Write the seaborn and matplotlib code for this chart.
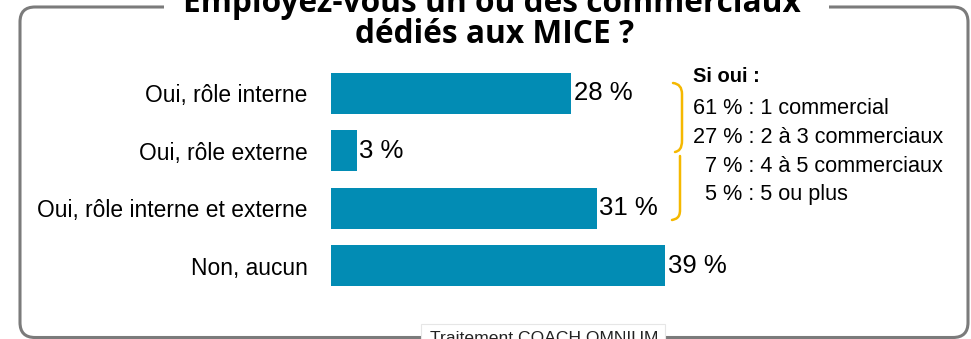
import matplotlib
matplotlib.use("Agg")
import matplotlib.pyplot as plt
import seaborn as sns
import pandas as pd
from matplotlib.patches import FancyBboxPatch, Rectangle, PathPatch
from matplotlib.path import Path
from matplotlib.transforms import IdentityTransform

categories = ["Oui, rôle interne", "Oui, rôle externe",
              "Oui, rôle interne et externe", "Non, aucun"]
values = [28, 3, 31, 39]
value_labels = ["28 %", "3 %", "31 %", "39 %"]
title_lines = ["Employez-vous un ou des commerciaux", "dédiés aux MICE ?"]
side_title = "Si oui :"
side_lines = ["61 % : 1 commercial", "27 % : 2 à 3 commerciaux",
              "  7 % : 4 à 5 commerciaux", "  5 % : 5 ou plus"]
source = "Traitement COACH OMNIUM"

W, H = 971, 339
BAR = "#028cb4"
GOLD = "#f5b800"
FRAME = "#7b7b7b"

sns.set_theme(style="white")
plt.rcParams['font.family'] = ['Liberation Sans', 'DejaVu Sans']

fig = plt.figure(figsize=(W / 100, H / 100), dpi=100)
fig.patch.set_facecolor("white")
px = IdentityTransform()

# Rounded frame
frame = FancyBboxPatch((20, 1.5), 948, 330.5,
                       boxstyle="round,pad=0,rounding_size=15",
                       transform=px, facecolor="none", edgecolor=FRAME,
                       linewidth=2.2, zorder=1)
fig.add_artist(frame)
# gap in the top border for the title
fig.add_artist(Rectangle((164, 325), 665, 14, transform=px,
                         facecolor="white", edgecolor="none", zorder=2))
# faint source box
fig.add_artist(Rectangle((421, -5), 244, 20, transform=px,
                         facecolor="white", edgecolor="#e6e6e6",
                         linewidth=0.8, zorder=2))

# Bars
ax = fig.add_axes([331 / W, 1 - 294.2 / H, 385.7 / W, 229.4 / H])
ax.set_facecolor("none")
df = pd.DataFrame({"cat": categories, "val": values})
sns.barplot(data=df, y="cat", x="val", orient="h", color=BAR,
            saturation=1, width=0.714, linewidth=0, ax=ax)
ax.set_xlim(0, 45)
ax.set_ylim(3.5, -0.5)
for i, (v, lab) in enumerate(zip(values, value_labels)):
    ax.text(v + 0.3, i, lab, ha="left", va="center", fontsize=18.5,
            color="black")
ax.set_xlabel("")
ax.set_ylabel("")
ax.set_xticks([])
ax.tick_params(axis="y", length=0, pad=17, labelsize=16.4, labelcolor="black")
for s in ax.spines.values():
    s.set_visible(False)

# Title
fig.text(492 / W, (H - 12) / H, title_lines[0], ha="center", va="baseline",
         fontsize=22.8, fontweight="bold", family="Open Sans", color="black",
         zorder=3)
fig.text(495 / W, (H - 43) / H, title_lines[1], ha="center", va="baseline",
         fontsize=22.8, fontweight="bold", family="Open Sans", color="black",
         zorder=3)

# Side note
fig.text(693 / W, 1 - 77 / H, side_title, ha="left", va="center",
         fontsize=14.5, fontweight="bold", color="black")
for k, line in enumerate(side_lines):
    fig.text(693 / W, 1 - (109 + 28.5 * k) / H, line, ha="left", va="center",
             fontsize=15.6, color="black")

# Brace (two stacked arcs)
def Y(y):
    return H - y
verts = [(673, Y(83)), (682, Y(84)), (682, Y(94)),
         (682, Y(140)),
         (682, Y(149)), (679, Y(151)), (675, Y(152)),
         (680, Y(156)), (680, Y(162)), (680, Y(166)),
         (680, Y(210)),
         (680, Y(218)), (676, Y(219)), (672, Y(220))]
codes = [Path.MOVETO, Path.CURVE3, Path.CURVE3,
         Path.LINETO,
         Path.CURVE4, Path.CURVE4, Path.CURVE4,
         Path.MOVETO, Path.CURVE3, Path.CURVE3,
         Path.LINETO,
         Path.CURVE4, Path.CURVE4, Path.CURVE4]
fig.add_artist(PathPatch(Path(verts, codes), transform=px, facecolor="none",
                         edgecolor=GOLD, linewidth=1.8, capstyle="round"))

# Source
fig.text(544 / W, (H - 331) / H, source, ha="center", va="top",
         fontsize=12.6, color="#222222", zorder=3)

fig.savefig("out.png", dpi=100)
